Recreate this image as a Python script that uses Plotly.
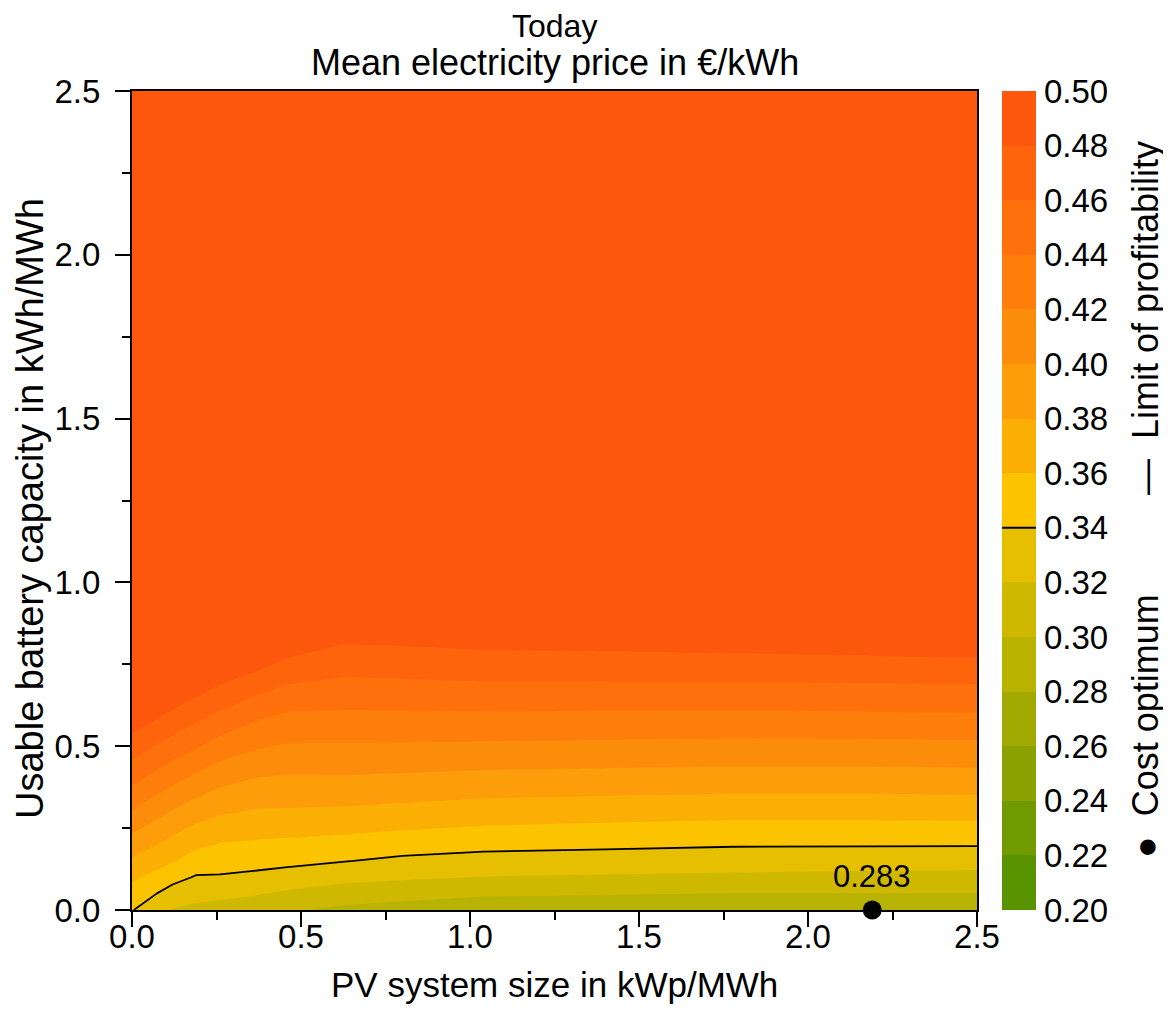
import plotly.graph_objects as go

# ---------------- data ----------------
# PV system size (kWp/MWh) grid and usable battery capacity (kWh/MWh) grid
x_pv = [0.0, 0.12, 0.19, 0.26, 0.37, 0.46, 0.63, 0.80, 1.04, 1.40, 1.78, 2.18, 2.50]
y_bat = [0.0, 0.05, 0.10, 0.15, 0.20, 0.30, 0.40, 0.50, 0.60, 0.70, 0.80, 0.90, 1.00, 1.50, 2.00, 2.50]

# mean electricity price (EUR/kWh), one column per PV size, values along y_bat
price_x000 = [0.341, 0.3518, 0.364, 0.3773, 0.3907, 0.4186, 0.4451, 0.4702, 0.495, 0.52, 0.54, 0.56, 0.58, 0.65, 0.70, 0.75]
price_x012 = [0.319, 0.3323, 0.3461, 0.3616, 0.3731, 0.3987, 0.4253, 0.4514, 0.4774, 0.5025, 0.525, 0.55, 0.57, 0.64, 0.69, 0.74]
price_x019 = [0.315, 0.3269, 0.3384, 0.3510, 0.3637, 0.3890, 0.4150, 0.4420, 0.4672, 0.4925, 0.5175, 0.54, 0.56, 0.63, 0.68, 0.73]
price_x026 = [0.312, 0.3252, 0.3382, 0.3488, 0.3590, 0.3823, 0.4059, 0.4318, 0.4575, 0.4831, 0.5075, 0.53, 0.55, 0.62, 0.67, 0.72]
price_x037 = [0.3075, 0.3214, 0.3353, 0.3467, 0.3569, 0.3779, 0.3989, 0.4222, 0.4450, 0.4723, 0.4988, 0.52, 0.54, 0.61, 0.66, 0.71]
price_x046 = [0.302, 0.3170, 0.3319, 0.3449, 0.3557, 0.3778, 0.3971, 0.4179, 0.4389, 0.4625, 0.4875, 0.51, 0.53, 0.60, 0.65, 0.70]
price_x063 = [0.2955, 0.3104, 0.3255, 0.3407, 0.3529, 0.3765, 0.3975, 0.4181, 0.4380, 0.4576, 0.4771, 0.50, 0.52, 0.59, 0.64, 0.69]
price_x080 = [0.292, 0.3075, 0.3227, 0.3360, 0.3493, 0.3740, 0.3961, 0.4176, 0.4384, 0.4588, 0.4788, 0.501, 0.52, 0.59, 0.64, 0.69]
price_x104 = [0.2865, 0.3030, 0.3193, 0.3326, 0.3458, 0.3705, 0.3936, 0.4168, 0.4389, 0.4606, 0.4813, 0.503, 0.52, 0.59, 0.64, 0.69]
price_x140 = [0.2848, 0.3013, 0.3177, 0.3309, 0.3438, 0.3683, 0.3923, 0.4156, 0.4382, 0.4607, 0.4824, 0.504, 0.525, 0.59, 0.64, 0.69]
price_x178 = [0.2835, 0.2997, 0.3161, 0.3294, 0.3417, 0.3662, 0.3909, 0.4145, 0.4377, 0.4607, 0.4838, 0.505, 0.525, 0.59, 0.64, 0.69]
price_x218 = [0.2830, 0.2997, 0.3148, 0.3286, 0.3415, 0.3662, 0.3909, 0.4150, 0.4388, 0.4619, 0.4856, 0.507, 0.527, 0.59, 0.64, 0.69]
price_x250 = [0.2840, 0.2997, 0.3140, 0.3277, 0.3413, 0.3672, 0.3918, 0.4155, 0.4393, 0.4625, 0.4875, 0.508, 0.528, 0.59, 0.64, 0.69]

# contour levels and band colours (lowest band first)
levels = [0.20, 0.22, 0.24, 0.26, 0.28, 0.30, 0.32, 0.34, 0.36, 0.38, 0.40, 0.42, 0.44, 0.46, 0.48, 0.50]
band_colors = ["#5A9300", "#719A00", "#89A200", "#A0AA00", "#B8B200", "#CFB900", "#E5BF00",
               "#FCC400", "#FBAF05", "#FC9D09", "#FC8D0A", "#FD7E0A", "#FE700B", "#FE640C", "#FD570D"]
level_step = 0.02
limit_level = 0.34          # limit of profitability
optimum_pv = 2.19           # cost optimum
optimum_bat = 0.0
optimum_price = 0.283

x_ticks = [0.0, 0.5, 1.0, 1.5, 2.0, 2.5]
y_ticks = [0.0, 0.5, 1.0, 1.5, 2.0, 2.5]

# ---------------- build ----------------
cols = [price_x000, price_x012, price_x019, price_x026, price_x037, price_x046, price_x063,
        price_x080, price_x104, price_x140, price_x178, price_x218, price_x250]
z_rows = [list(r) for r in zip(*cols)]

# plotly samples fill colours at level + step/2 on a domain [start - step, end]
lo = levels[0] - level_step
span = levels[-1] - lo
cscale = [[0.0, band_colors[0]]]
for k, c in enumerate(band_colors):
    a = (levels[k] - lo) / span
    b = (levels[k + 1] - lo) / span
    cscale.append([a, c])
    cscale.append([min(b, 1.0), c])
cscale[-1][0] = 1.0

FONT = "Arial, Liberation Sans, sans-serif"
OFF = 8                      # page body margin of the browser
W, H = 1171 - OFF, 1012 - OFF
L, T = 132 - OFF, 91 - OFF
R = W - (1036 - OFF)
B = H - (910 - OFF)
pw = W - L - R
ph = H - T - B
x_main_end = (977 - 132) / pw
x_cb_start = (1002 - 132) / pw


def px_x(xr):   # reference pixel x -> paper
    return (xr - 132) / pw


def px_y(yr):   # reference pixel y -> paper
    return (910 - yr) / ph


fig = go.Figure()

fig.add_trace(go.Contour(
    x=x_pv, y=y_bat, z=z_rows,
    autocontour=False,
    contours=dict(start=levels[0], end=levels[-1], size=level_step,
                  coloring="fill", showlines=False),
    colorscale=cscale, showscale=False,
    line=dict(width=0, smoothing=0),
    hoverinfo="skip",
))

fig.add_trace(go.Contour(
    x=x_pv, y=y_bat, z=z_rows,
    autocontour=False,
    contours=dict(start=limit_level, end=limit_level, size=level_step,
                  coloring="none", showlines=True),
    line=dict(color="black", width=1.8, smoothing=0),
    showscale=False, hoverinfo="skip",
))

fig.add_trace(go.Scatter(
    x=[optimum_pv], y=[optimum_bat], mode="markers",
    marker=dict(size=19, color="black"),
    cliponaxis=False, showlegend=False,
))

# custom colour bar
fig.add_trace(go.Bar(
    x=[0] * len(band_colors), y=[levels[k + 1] - levels[k] for k in range(len(band_colors))],
    base=levels[:-1], width=1,
    marker=dict(color=band_colors, line=dict(width=0)),
    xaxis="x2", yaxis="y2", showlegend=False, hoverinfo="skip",
))
fig.add_trace(go.Scatter(
    x=[-0.5, 0.5], y=[limit_level, limit_level], mode="lines",
    line=dict(color="black", width=2),
    xaxis="x2", yaxis="y2", showlegend=False, cliponaxis=False,
))

axis_common = dict(
    showline=True, linewidth=2, linecolor="black", mirror=True,
    ticks="outside", ticklen=15, tickwidth=2, tickcolor="black",
    showgrid=False, zeroline=False,
    tickfont=dict(size=33, color="black", family=FONT),
    minor=dict(ticks="outside", ticklen=8, tickwidth=2, tickcolor="black", dtick=0.25),
)

fig.update_layout(
    width=W, height=H,
    margin=dict(l=L, r=R, t=T, b=B),
    paper_bgcolor="white", plot_bgcolor="white",
    font=dict(family=FONT, color="black"),
    showlegend=False,
    bargap=0,
    xaxis=dict(domain=[0, x_main_end], range=[0, 2.5], tickvals=x_ticks,
               ticktext=[f"{v:.1f}" for v in x_ticks], ticklabelstandoff=-19,
               **axis_common),
    yaxis=dict(domain=[0, 1], range=[0, 2.5], tickvals=y_ticks,
               ticktext=[f"{v:.1f}" for v in y_ticks], ticklabelstandoff=8,
               **axis_common),
    xaxis2=dict(domain=[x_cb_start, 1.0], range=[-0.5, 0.5], anchor="y2",
                visible=False, fixedrange=True),
    yaxis2=dict(domain=[0, 1], range=[levels[0], levels[-1]], anchor="x2", side="right",
                tickvals=levels, ticktext=[f"{v:.2f}" for v in levels],
                ticks="", showline=False, showgrid=False, zeroline=False,
                ticklabelstandoff=7,
                tickfont=dict(size=33, color="black", family=FONT)),
)

# titles
fig.add_annotation(x=x_main_end / 2, y=px_y(26), xref="paper", yref="paper",
                   text="Today", showarrow=False, xanchor="center", yanchor="middle",
                   font=dict(size=32, family=FONT, color="black"))
fig.add_annotation(x=x_main_end / 2, y=px_y(63), xref="paper", yref="paper",
                   text="Mean electricity price in €/kWh", showarrow=False,
                   xanchor="center", yanchor="middle",
                   font=dict(size=36, family=FONT, color="black"))
fig.add_annotation(x=x_main_end / 2, y=px_y(985), xref="paper", yref="paper",
                   text="PV system size in kWp/MWh", showarrow=False,
                   xanchor="center", yanchor="middle",
                   font=dict(size=35, family=FONT, color="black"))
fig.add_annotation(x=px_x(30), y=px_y(509), xref="paper", yref="paper",
                   text="Usable battery capacity in kWh/MWh", showarrow=False, textangle=-90,
                   xanchor="center", yanchor="middle",
                   font=dict(size=38, family=FONT, color="black"))

fig.add_annotation(x=optimum_pv, y=optimum_bat, xref="x", yref="y",
                   text=f"{optimum_price:.3f}", showarrow=False,
                   yanchor="bottom", yshift=14,
                   font=dict(size=31, family=FONT, color="black"))

fig.add_annotation(x=px_x(1145), y=px_y(318), xref="paper", yref="paper",
                   text="—  Limit of profitability", textangle=-90, showarrow=False,
                   xanchor="center", yanchor="middle",
                   font=dict(size=36, family=FONT, color="black"))
fig.add_annotation(x=px_x(1145), y=px_y(726), xref="paper", yref="paper",
                   text="●  Cost optimum", textangle=-90, showarrow=False,
                   xanchor="center", yanchor="middle",
                   font=dict(size=36, family=FONT, color="black"))

fig.write_html("out.html")
